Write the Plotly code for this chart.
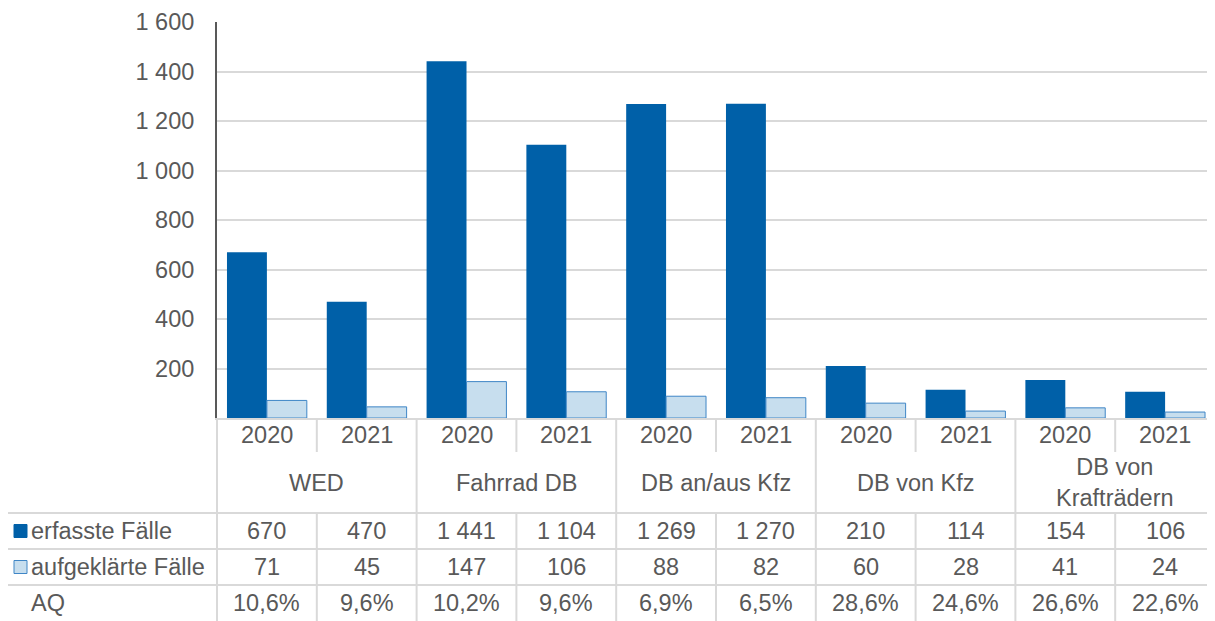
import plotly.graph_objects as go

years = ["2020", "2021"] * 5
categories = ["WED", "Fahrrad DB", "DB an/aus Kfz", "DB von Kfz", "DB von<br>Krafträdern"]
erfasste = [670, 470, 1441, 1104, 1269, 1270, 210, 114, 154, 106]
aufgeklaerte = [71, 45, 147, 106, 88, 82, 60, 28, 41, 24]
aq = ["10,6%", "9,6%", "10,2%", "9,6%", "6,9%", "6,5%", "28,6%", "24,6%", "26,6%", "22,6%"]
row_labels = ["erfasste Fälle", "aufgeklärte Fälle", "AQ"]
y_ticks = [200, 400, 600, 800, 1000, 1200, 1400, 1600]

DARK = "#0060a8"
LIGHT = "#c7deee"
LIGHT_LINE = "#3f86c6"
TXT = "#595959"
GRID = "#d9d9d9"
FONT = "Liberation Sans, Arial, sans-serif"
FS = 23.5

OFF = 8  # page body margin
W, H = 1215 - OFF, 621 - OFF
L, R, T, B = 217 - OFF, 0, 22 - OFF, 203
plot_w = W - L - R
plot_h = H - T - B
n = len(erfasste)

def py(ypix):  # screen pixel -> paper
    return (H - B - (ypix - OFF)) / plot_h

def px(xpix):
    return (xpix - OFF - L) / plot_w

def col_edge(i):
    return i / n

xs = list(range(n))

fig = go.Figure()
fig.add_trace(go.Bar(x=xs, y=erfasste, name=row_labels[0], marker=dict(color=DARK, line=dict(width=0))))
fig.add_trace(go.Bar(x=xs, y=aufgeklaerte, name=row_labels[1], marker=dict(color=LIGHT, line=dict(color=LIGHT_LINE, width=1))))

shapes = []
ann = []
line = dict(color=GRID, width=2)

y_top = 419
y_year = 452
y_rows = [513, 549, 585, 621]
for yb in y_rows[:-1]:
    shapes.append(dict(type="line", xref="paper", yref="paper", x0=px(7), x1=1, y0=py(yb), y1=py(yb), line=line))
shapes.append(dict(type="line", xref="paper", yref="paper", x0=px(7), x1=px(7), y0=py(y_rows[0]), y1=py(y_rows[-1]), line=line))
shapes.append(dict(type="line", xref="paper", yref="paper", x0=0, x1=0, y0=py(y_top), y1=py(y_rows[-1]), line=line))
for i in range(1, n):
    xe = col_edge(i)
    if i % 2 == 0:
        shapes.append(dict(type="line", xref="paper", yref="paper", x0=xe, x1=xe, y0=py(y_top), y1=py(y_rows[-1]), line=line))
    else:
        shapes.append(dict(type="line", xref="paper", yref="paper", x0=xe, x1=xe, y0=py(y_top), y1=py(y_year), line=line))
        shapes.append(dict(type="line", xref="paper", yref="paper", x0=xe, x1=xe, y0=py(y_rows[0]), y1=py(y_rows[-1]), line=line))

sq = [(DARK, DARK), (LIGHT, LIGHT_LINE)]
for r in range(2):
    yc = (y_rows[r] + y_rows[r + 1]) / 2
    shapes.append(dict(type="rect", xref="paper", yref="paper", x0=px(14), x1=px(27), y0=py(yc - 6.5), y1=py(yc + 6.5),
                       fillcolor=sq[r][0], line=dict(color=sq[r][1], width=1)))

font = dict(family=FONT, size=FS, color=TXT)
for i in range(n):
    ann.append(dict(x=xs[i], xref="x", y=py((y_top + y_year) / 2), yref="paper", text=years[i], showarrow=False, font=font, yanchor="middle"))
for g, c in enumerate(categories):
    ann.append(dict(x=2 * g + 0.5, xref="x", y=py((y_year + y_rows[0]) / 2), yref="paper", text=c, showarrow=False, font=font, yanchor="middle"))

def fmt(v):
    return f"{v:,}".replace(",", " ")

rows = [[fmt(v) for v in erfasste], [fmt(v) for v in aufgeklaerte], aq]
for r in range(3):
    yc = (y_rows[r] + y_rows[r + 1]) / 2
    ann.append(dict(x=px(29), xref="paper", y=py(yc), yref="paper", text=row_labels[r], showarrow=False, font=font,
                    xanchor="left", yanchor="middle"))
    for i in range(n):
        ann.append(dict(x=xs[i], xref="x", y=py(yc), yref="paper", text=rows[r][i], showarrow=False, font=font, yanchor="middle"))

fig.update_layout(
    width=W, height=H,
    margin=dict(l=L, r=R, t=T, b=B, autoexpand=False),
    paper_bgcolor="white", plot_bgcolor="white",
    barmode="group", bargap=0.2, bargroupgap=0,
    showlegend=False,
    separators=", ",
    font=dict(family=FONT, size=FS, color=TXT),
    shapes=shapes, annotations=ann,
    xaxis=dict(range=[-0.5, n - 0.5], showticklabels=False, showgrid=False, zeroline=False,
               showline=True, linecolor=GRID, linewidth=2, ticks=""),
    yaxis=dict(range=[0, 1600], tickvals=y_ticks, tickformat=",", showgrid=True, gridcolor=GRID, gridwidth=2,
               zeroline=False, showline=True, linecolor=TXT, linewidth=2, ticks="", ticklabelstandoff=16,
               tickfont=dict(family=FONT, size=FS, color=TXT)),
)

fig.write_html("out.html")
